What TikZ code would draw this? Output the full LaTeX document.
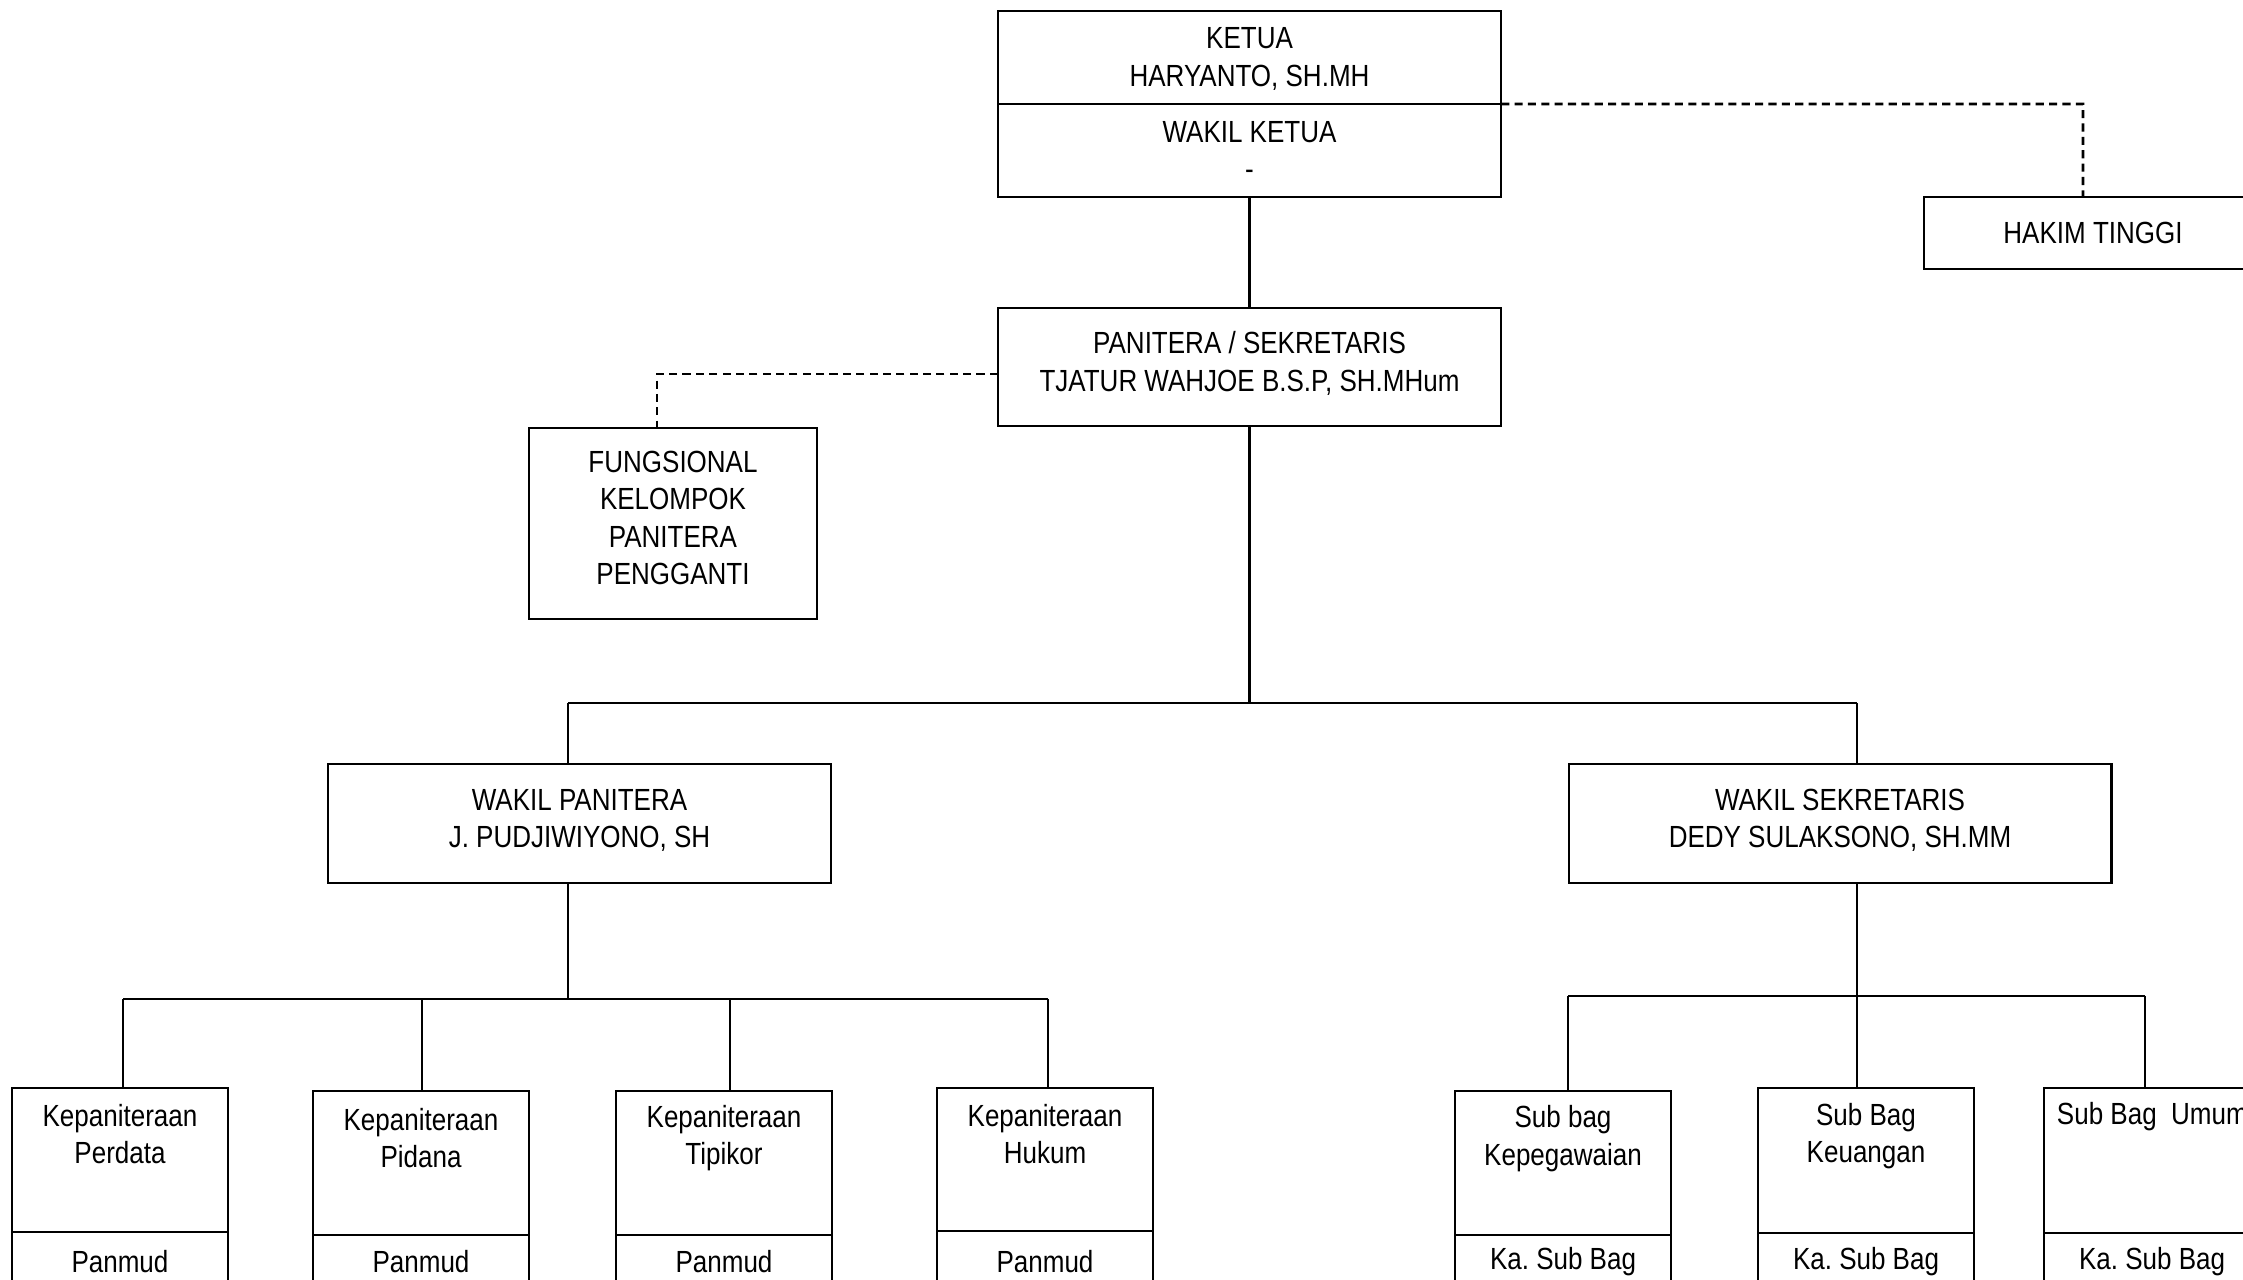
\documentclass[tikz,border=0pt]{standalone}
\usepackage{fontspec}
\setmainfont{Liberation Sans}[FakeStretch=0.85]
\newcommand{\orgfont}{\fontsize{8.7pt}{10.6pt}\selectfont\frenchspacing}
\begin{document}
\begin{tikzpicture}[x=0.01cm,y=-0.01cm,
  box/.style={draw, line width=0.75pt, inner sep=0pt, outer sep=0pt, align=center, font=\orgfont},
  txt/.style={inner sep=0pt, outer sep=0pt, align=center, font=\orgfont},
  conn/.style={line width=0.75pt},
  dashconn/.style={line width=0.75pt, dash pattern=on 2.3pt off 1.5pt},
  kbox/.style={box, minimum width=2.16cm, minimum height=1.44cm, anchor=north},
  lbox/.style={box, minimum width=2.16cm, minimum height=0.6cm, anchor=north}]
\useasboundingbox (0,0) rectangle (2243,1280);
\clip (0,0) rectangle (2243,1280);
\fill[white] (0,0) rectangle (2243,1280);

% top
\node[box, minimum width=5.03cm, minimum height=0.93cm,
  label={[txt,yshift=-0.015cm]center:{KETUA\\HARYANTO, SH.MH}}] (ketua) at (1249.5,57.5) {};
\node[box, minimum width=5.03cm, minimum height=0.93cm, anchor=north,
  label={[txt]center:{WAKIL KETUA\\-}}] (wketua) at (ketua.south) {};
\node[box, minimum width=3.38cm, minimum height=0.72cm] (hakim) at (2093,233) {HAKIM TINGGI};
\node[box, minimum width=5.03cm, minimum height=1.18cm,
  label={[txt,yshift=0.035cm]center:{PANITERA / SEKRETARIS\\TJATUR WAHJOE B.S.P, SH.MHum}}] (panitera) at (1249.5,367) {};
\node[box, minimum width=2.88cm, minimum height=1.91cm,
  label={[txt,yshift=0.055cm]center:{FUNGSIONAL\\KELOMPOK\\PANITERA\\PENGGANTI}}] (fung) at (673,523.5) {};
\node[box, minimum width=5.03cm, minimum height=1.19cm,
  label={[txt,yshift=0.03cm]center:{WAKIL PANITERA\\J. PUDJIWIYONO, SH}}] (wp) at (579.5,823.5) {};
\node[box, minimum width=5.42cm, minimum height=1.19cm,
  label={[txt,yshift=0.03cm]center:{WAKIL SEKRETARIS\\DEDY SULAKSONO, SH.MM}}] (ws) at (1840,823.5) {};

% dashed links
\coordinate (hk) at (2083,104);
\draw[dashconn] (ketua.south east) -- (hk) -- (hk |- hakim.north);
\coordinate (fk) at (657,374);
\draw[dashconn] (fk -| panitera.west) -- (fk) -- (fk |- fung.north);

% main tree
\draw[conn] (wketua.south) -- (panitera.north);
\coordinate (bl) at (568,703);
\coordinate (br) at (1857,703);
\draw[conn] (panitera.south) -- (panitera.south |- bl);
\draw[conn] (bl) -- (br);
\draw[conn] (bl) -- (bl |- wp.north);
\draw[conn] (br) -- (br |- ws.north);

\coordinate (pm) at (0,1262);

% left branch boxes
\node[kbox] (perdata) at (120,1088) {};
\node[lbox] (perdataL) at (perdata.south) {};
\node[txt, yshift=-0.46cm] (perdataT) at (perdata.north) {Kepaniteraan\\Perdata};
\node[txt] (perdataP) at (perdataL.north |- pm) {Panmud};
\node[kbox] (pidana) at (421,1091) {};
\node[lbox] (pidanaL) at (pidana.south) {};
\node[txt, yshift=-0.47cm] (pidanaT) at (pidana.north) {Kepaniteraan\\Pidana};
\node[txt] (pidanaP) at (pidanaL.north |- pm) {Panmud};
\node[kbox] (tipikor) at (724,1091) {};
\node[lbox] (tipikorL) at (tipikor.south) {};
\node[txt, yshift=-0.47cm] (tipikorT) at (tipikor.north) {Kepaniteraan\\Tipikor};
\node[txt] (tipikorP) at (tipikorL.north |- pm) {Panmud};
\node[kbox, minimum height=1.43cm] (hukum) at (1045,1088) {};
\node[lbox] (hukumL) at (hukum.south) {};
\node[txt, yshift=-0.46cm] (hukumT) at (hukum.north) {Kepaniteraan\\Hukum};
\node[txt] (hukumP) at (hukumL.north |- pm) {Panmud};

% left branch connectors
\coordinate (lb1) at (123,999);
\coordinate (lb2) at (422,999);
\coordinate (lb3) at (730,999);
\coordinate (lb4) at (1048,999);
\draw[conn] (bl |- wp.south) -- (bl |- lb1);
\draw[conn] (lb1) -- (lb4);
\draw[conn] (lb1) -- (lb1 |- perdata.north);
\draw[conn] (lb2) -- (lb2 |- pidana.north);
\draw[conn] (lb3) -- (lb3 |- tipikor.north);
\draw[conn] (lb4) -- (lb4 |- hukum.north);

% right branch boxes
\node[kbox] (pegawai) at (1563,1091) {};
\node[lbox] (pegawaiL) at (pegawai.south) {};
\node[txt, yshift=-0.475cm] (pegawaiT) at (pegawai.north) {Sub bag\\Kepegawaian};
\node[txt] (pegawaiP) at (pegawaiL.north |- pm) {Ka. Sub Bag};
\node[kbox, minimum height=1.45cm] (uang) at (1866,1088) {};
\node[lbox] (uangL) at (uang.south) {};
\node[txt, yshift=-0.48cm] (uangT) at (uang.north) {Sub Bag\\Keuangan};
\node[txt] (uangP) at (uangL.north |- pm) {Ka. Sub Bag};
\node[kbox, minimum height=1.45cm] (umum) at (2152,1088) {};
\node[lbox] (umumL) at (umum.south) {};
\node[txt, anchor=west, xshift=0.13cm, yshift=-0.29cm] (umumT) at (umum.north west) {Sub Bag~ Umum};
\node[txt] (umumP) at (umumL.north |- pm) {Ka. Sub Bag};

% right branch connectors
\coordinate (rb1) at (1568,996);
\coordinate (rb2) at (1857,996);
\coordinate (rb3) at (2145,996);
\draw[conn] (br |- ws.south) -- (rb2);
\draw[conn] (rb1) -- (rb3);
\draw[conn] (rb1) -- (rb1 |- pegawai.north);
\draw[conn] (rb2) -- (rb2 |- uang.north);
\draw[conn] (rb3) -- (rb3 |- umum.north);
\end{tikzpicture}
\end{document}
